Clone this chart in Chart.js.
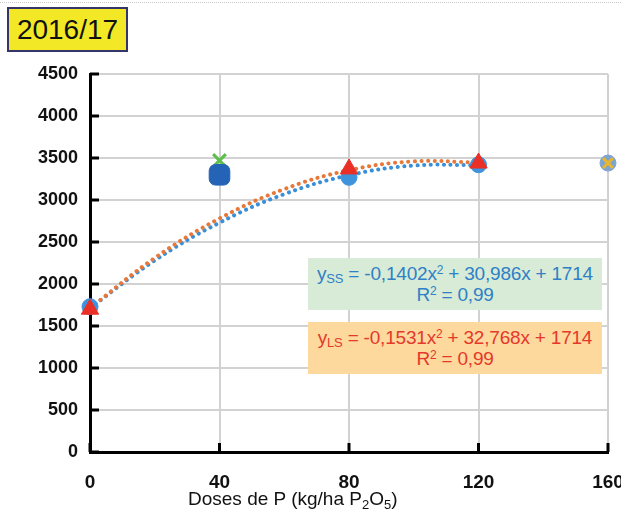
<!DOCTYPE html>
<html>
<head>
<meta charset="utf-8">
<script src="https://cdn.jsdelivr.net/npm/chart.js@4"></script>
<style>
  body { margin: 0; background: #fff; }
  #wrap { position: relative; width: 621px; height: 516px; font-family: 'Liberation Sans', Arial, sans-serif; }
  #wrap:before { content: ''; position: absolute; left: 0; right: 0; top: 2px; border-top: 1px dotted #c8c8c8; }
  canvas { position: absolute; left: 0; top: 0; }
  .lbl { position: absolute; white-space: nowrap; }
  #season { left: 7px; top: 7px; width: 117px; height: 41px; background: #f2e826; border: 2px solid #35356a; font-size: 28px; line-height: 41px; text-align: center; color: #111; }
  .eq { position: absolute; left: 308px; width: 294px; font-size: 19px; line-height: 21px; text-align: center; padding-top: 5px; box-sizing: border-box; height: 52px; letter-spacing: -0.2px; }
  .eq sub { font-size: 13px; vertical-align: -3px; line-height: 0; }
  .eq sup { font-size: 12px; vertical-align: 6px; line-height: 0; }
  #eqSS { top: 258px; background: #d7ebd6; color: #2f80c6; }
  #eqLS { top: 322px; background: #fdd99d; color: #e5382b; }
  #xtitle { left: 188px; top: 488px; font-size: 19px; color: #111; }
  #xtitle sub { font-size: 13px; vertical-align: -4px; line-height: 0; }
</style>
</head>
<body>
<div id="wrap">
  <canvas id="chart" width="621" height="516"></canvas>
  <div class="lbl" id="season">2016/17</div>
  <div class="eq" id="eqSS">y<sub>SS</sub> = -0,1402x<sup>2</sup> + 30,986x + 1714<br>R<sup>2</sup> = 0,99</div>
  <div class="eq" id="eqLS">y<sub>LS</sub> = -0,1531x<sup>2</sup> + 32,768x + 1714<br>R<sup>2</sup> = 0,99</div>
  <div class="lbl" id="xtitle">Doses de P (kg/ha P<sub>2</sub>O<sub>5</sub>)</div>
</div>
<script>
// doses (kg/ha P2O5)
const xTicks = [0, 40, 80, 120, 160];
const yTicks = [0, 500, 1000, 1500, 2000, 2500, 3000, 3500, 4000, 4500];

// measured yields
const ssDoses = [0, 80, 120];
const ssYield = [1730, 3270, 3420];
const lsDoses = [0, 80, 120];
const lsYield = [1700, 3370, 3440];
const sq40 = [3300];
const cross40 = [3470];
const p160 = [3440];

// trend lines
const trendX = [0, 20, 40, 60, 80, 100, 120];
const trendSS = [1714, 2280, 2730, 3070, 3295, 3410, 3415];
const trendLS = [1714, 2310, 2780, 3130, 3355, 3460, 3445];

function pts(xs, ys) {
    return xs.map((x, i) => ({ x: x, y: ys[i] }));
}

const dotted = { borderDash: [0.1, 6.5], borderCapStyle: 'round', borderWidth: 4, pointRadius: 0, tension: 0.4, fill: false };

const innerTicks = {
    id: 'innerTicks',
    afterDraw(chart) {
        const ctx = chart.ctx;
        const xs = chart.scales.x, ys = chart.scales.y;
        const a = chart.chartArea;
        ctx.save();
        ctx.strokeStyle = '#000';
        ctx.lineWidth = 3;
        yTicks.forEach(v => {
            const y = ys.getPixelForValue(v);
            ctx.beginPath();
            ctx.moveTo(a.left, y);
            ctx.lineTo(a.left + 9, y);
            ctx.stroke();
        });
        xTicks.forEach(v => {
            const x = xs.getPixelForValue(v);
            ctx.beginPath();
            ctx.moveTo(x, a.bottom);
            ctx.lineTo(x, a.bottom - 9);
            ctx.stroke();
        });
        ctx.restore();
    }
};

const ctx = document.getElementById('chart').getContext('2d');
new Chart(ctx, {
    type: 'scatter',
    data: {
        datasets: [
            { label: 'LS', data: pts(lsDoses, lsYield), pointStyle: 'triangle', pointRadius: 10, backgroundColor: '#ea2f27', borderColor: '#ea2f27', borderWidth: 1, clip: false },
            { label: 'SS', data: pts(ssDoses, ssYield), pointStyle: 'circle', pointRadius: 8, backgroundColor: '#3d94dc', borderColor: '#3d94dc', borderWidth: 1, clip: false },
            { label: 'x160', data: pts([160], p160), pointStyle: 'crossRot', pointRadius: 7, borderColor: '#e8b52e', borderWidth: 3, backgroundColor: '#e8b52e', clip: false },
            { label: 'c160', data: pts([160], p160), pointStyle: 'circle', pointRadius: 8, backgroundColor: '#7ea4d2', borderColor: '#7ea4d2', borderWidth: 1, clip: false },
            { label: 'sq40', data: pts([40], sq40), pointStyle: 'rectRounded', pointRadius: 12, backgroundColor: '#2463b6', borderColor: '#2463b6', borderWidth: 1 },
            { label: 'x40', data: pts([40], cross40), pointStyle: 'crossRot', pointRadius: 9, borderColor: '#5cbf4a', borderWidth: 3 },
            Object.assign({ type: 'line', label: 'tLS', data: pts(trendX, trendLS), borderColor: '#e8783a' }, dotted),
            Object.assign({ type: 'line', label: 'tSS', data: pts(trendX, trendSS), borderColor: '#3a90d8' }, dotted)
        ]
    },
    options: {
        responsive: false,
        animation: false,
        events: [],
        layout: { padding: { top: 74, right: 11, left: 0, bottom: 0 } },
        plugins: { legend: { display: false }, tooltip: { enabled: false } },
        scales: {
            x: {
                type: 'linear', min: 0, max: 160,
                afterFit: s => { s.height = 64; s.paddingLeft = 0; s.paddingRight = 0; },
                afterBuildTicks: s => { s.ticks = xTicks.map(v => ({ value: v })); },
                grid: { color: '#d2d2d2', lineWidth: 2, drawTicks: false },
                border: { color: '#000', width: 3 },
                ticks: { padding: 19, color: '#111', callback: v => String(v), font: { family: 'Liberation Sans', size: 19, weight: 'bold' } }
            },
            y: {
                min: 0, max: 4500,
                afterFit: s => { s.width = 90; s.paddingTop = 0; s.paddingBottom = 0; },
                afterBuildTicks: s => { s.ticks = yTicks.map(v => ({ value: v })); },
                grid: { color: '#d2d2d2', lineWidth: 2, drawTicks: false },
                border: { color: '#000', width: 3 },
                ticks: { padding: 12, color: '#111', callback: v => String(v), font: { family: 'Liberation Sans', size: 18, weight: 'bold' } }
            }
        }
    },
    plugins: [innerTicks]
});
</script>
</body>
</html>
